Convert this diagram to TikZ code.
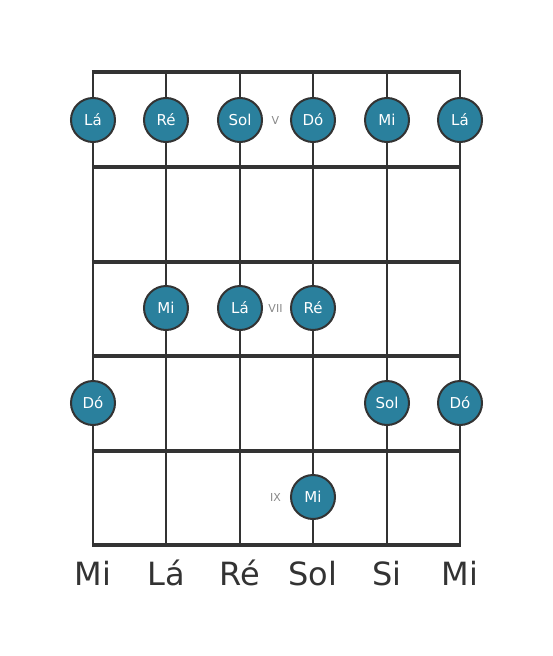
\documentclass[tikz,border=0pt]{standalone}
\usepackage{fontspec}
\setmainfont{DejaVu Sans}
\definecolor{dotfill}{RGB}{42,128,157}
\definecolor{linec}{RGB}{51,51,51}
\definecolor{numc}{RGB}{136,136,136}
\begin{document}
\begin{tikzpicture}[x=1pt,y=-1pt,
  fret/.style={draw=linec,line width=4pt},
  stringl/.style={draw=linec,line width=2.5pt},
  notedot/.style={circle,draw=linec,line width=2pt,fill=dotfill,minimum size=44pt,inner sep=0pt,text=white,font=\fontsize{15}{16}\selectfont},
  fretnum/.style={text=numc,font=\fontsize{11}{12}\selectfont,inner sep=0pt},
  strname/.style={text=linec,font=\fontsize{32}{34}\selectfont,inner sep=0pt}]
\useasboundingbox (0,0) rectangle (553,656);
\foreach \x [count=\i] in {93,166,240,313,387,460} {
  \coordinate (s\i t) at (\x,72);
  \coordinate (s\i b) at (\x,545);
  \draw[stringl] (s\i t) -- (s\i b);
}
\foreach \y [count=\j] in {72,167,262,356,451,545} {
  \coordinate (f\j l) at (91.75,\y);
  \coordinate (f\j r) at (461.25,\y);
  \draw[fret] (f\j l) -- (f\j r);
}
% row V
\node[notedot] (a1) at (93,120) {Lá};
\node[notedot] (a2) at (166,120) {Ré};
\node[notedot] (a3) at (240,120) {Sol};
\node[notedot] (a4) at (313,120) {Dó};
\node[notedot] (a5) at (387,120) {Mi};
\node[notedot] (a6) at (460,120) {Lá};
% row VII
\node[notedot] (b2) at (166,308) {Mi};
\node[notedot] (b3) at (240,308) {Lá};
\node[notedot] (b4) at (313,308) {Ré};
% row VIII
\node[notedot] (c1) at (93,403) {Dó};
\node[notedot] (c5) at (387,403) {Sol};
\node[notedot] (c6) at (460,403) {Dó};
% row IX
\node[notedot] (d4) at (313,497) {Mi};
% fret numbers
\node[fretnum] (n5) at (275.5,120) {V};
\node[fretnum] (n7) at (275.5,308) {VII};
\node[fretnum] (n9) at (275.5,497) {IX};
% string names
\foreach \x/\t [count=\i] in {93/Mi,166/Lá,240/Ré,313/Sol,387/Si,460/Mi} {
  \node[strname,anchor=base] (l\i) at (\x,585) {\t};
}
\end{tikzpicture}
\end{document}
